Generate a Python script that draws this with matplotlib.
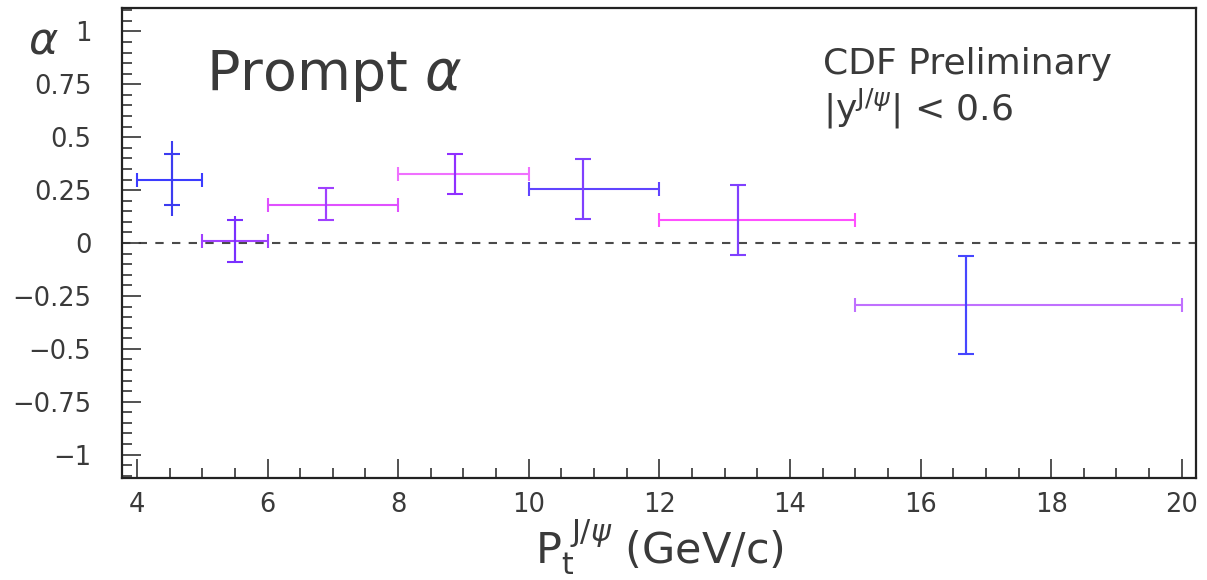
import numpy as np
import matplotlib
matplotlib.use('Agg')
import matplotlib.pyplot as plt
from matplotlib.ticker import MultipleLocator

# prompt J/psi polarization alpha vs pT (CDF preliminary)
bin_lo = [4, 5, 6, 8, 10, 12, 15]
bin_hi = [5, 6, 8, 10, 12, 15, 20]
pt_mean = [4.54, 5.5, 6.9, 8.87, 10.83, 13.2, 16.7]
alpha = [0.30, 0.01, 0.18, 0.325, 0.255, 0.108, -0.293]
stat_up = [0.12, 0.10, 0.08, 0.095, 0.14, 0.165, 0.23]
stat_dn = [0.12, 0.10, 0.07, 0.095, 0.14, 0.165, 0.23]
tot_up = [0.18, 0.12, 0.08, 0.095, 0.14, 0.165, 0.23]
tot_dn = [0.17, 0.105, 0.07, 0.095, 0.14, 0.165, 0.23]

ytick_vals = [-1, -0.75, -0.5, -0.25, 0, 0.25, 0.5, 0.75, 1]
ytick_text = ['\u22121', '\u22120.75', '\u22120.5', '\u22120.25', '0', '0.25', '0.5', '0.75', '1']
xtick_vals = [4, 6, 8, 10, 12, 14, 16, 18, 20]

hcols = ['#3c3cff', '#a040ff', '#e050ff', '#f070ff', '#6044ff', '#ff50ff', '#c070ff']
vcols = ['#3c3cf0', '#7a30ff', '#a040ff', '#9030ff', '#8040ff', '#8040ff', '#4646ff']

txt = '#3a3a3a'
plt.rcParams['font.family'] = ['DejaVu Sans']

fig = plt.figure(figsize=(12.07, 5.8), dpi=100)
ax = fig.add_axes([0.101, 0.176, 0.890, 0.810])

ax.axhline(0, color='#4a4a4a', lw=1.5, ls=(0, (4, 4)), zorder=1)

for i in range(len(alpha)):
    xc = pt_mean[i]
    xe = [[xc - bin_lo[i]], [bin_hi[i] - xc]]
    ax.errorbar([xc], [alpha[i]], xerr=xe, fmt='none', ecolor=hcols[i],
                elinewidth=1.5, capsize=5, capthick=1.5, zorder=3)
    ax.errorbar([xc], [alpha[i]], yerr=[[tot_dn[i]], [tot_up[i]]], fmt='none',
                ecolor=vcols[i], elinewidth=1.5, capsize=0, zorder=3)
    ax.errorbar([xc], [alpha[i]], yerr=[[stat_dn[i]], [stat_up[i]]], fmt='none',
                ecolor=vcols[i], elinewidth=1.5, capsize=6, capthick=1.5, zorder=3)

ax.set_xlim(3.77, 20.22)
ax.set_ylim(-1.11, 1.11)
ax.set_yticks(ytick_vals)
ax.set_yticklabels(ytick_text)
ax.set_xticks(xtick_vals)
ax.xaxis.set_minor_locator(MultipleLocator(0.5))
ax.yaxis.set_minor_locator(MultipleLocator(0.05))
ax.tick_params(axis='both', which='major', direction='in', length=14, width=1.2,
               labelsize=18.5, labelcolor=txt, color='#333333')
ax.tick_params(axis='both', which='minor', direction='in', length=7, width=1.2,
               color='#333333')
ax.tick_params(axis='x', pad=10)
ax.tick_params(axis='y', pad=22)
for s in ax.spines.values():
    s.set_linewidth(1.6)
    s.set_color('#222222')

ax.set_xlabel(r'$\mathrm{P}_\mathrm{t}^{\ \mathrm{J/}\psi}$ (GeV/c)', fontsize=31,
              color=txt, labelpad=0)
fig.text(0.036, 0.93, r'$\alpha$', fontsize=32, color=txt, ha='center', va='center')

ax.text(0.078, 0.855, r'Prompt $\alpha$', transform=ax.transAxes, fontsize=40,
        color=txt, ha='left', va='center')
ax.text(0.653, 0.882, 'CDF Preliminary', transform=ax.transAxes, fontsize=26,
        color=txt, ha='left', va='center')
ax.text(0.653, 0.785, r'$|\mathrm{y}^{\mathrm{J/}\psi}|$ < 0.6', transform=ax.transAxes,
        fontsize=26, color=txt, ha='left', va='center')

fig.savefig('out.png', dpi=100)
